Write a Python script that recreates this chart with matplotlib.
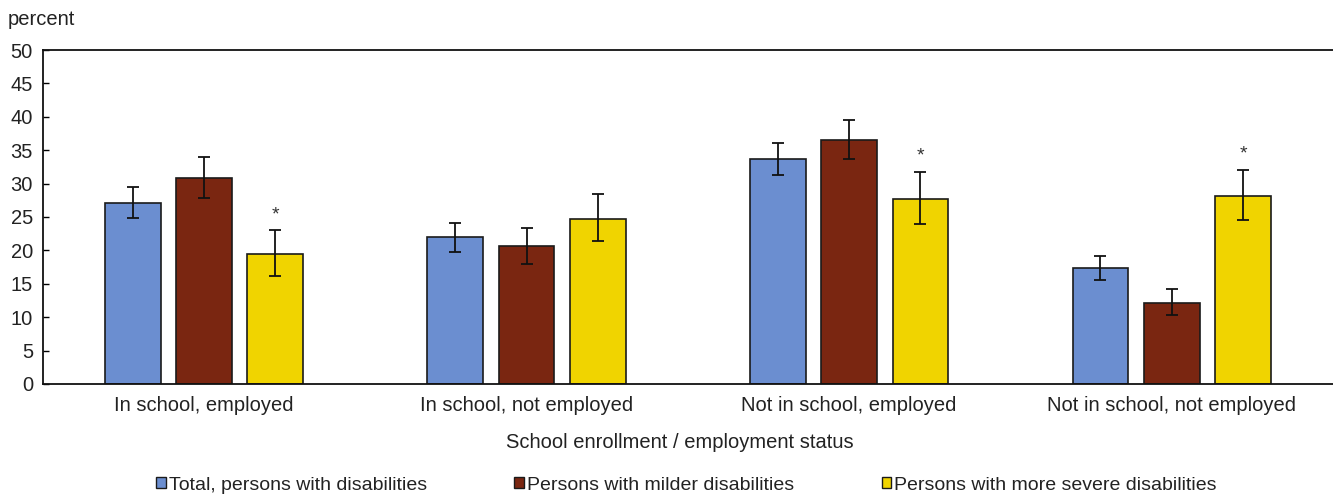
import numpy as np
import matplotlib
matplotlib.use('Agg')
import matplotlib.pyplot as plt
from matplotlib.patches import Patch

plt.rcParams['font.family'] = ['Liberation Sans', 'DejaVu Sans']

categories = ['In school, employed', 'In school, not employed',
              'Not in school, employed', 'Not in school, not employed']
series = ['Total, persons with disabilities', 'Persons with milder disabilities',
          'Persons with more severe disabilities']
colors = ['#6b8ed0', '#7a2611', '#f0d400']

total = [27.1, 22.0, 33.7, 17.3]
total_lo = [24.9, 19.8, 31.3, 15.6]
total_hi = [29.5, 24.1, 36.1, 19.2]

milder = [30.8, 20.6, 36.5, 12.1]
milder_lo = [27.9, 17.9, 33.7, 10.3]
milder_hi = [34.0, 23.4, 39.5, 14.2]

severe = [19.4, 24.7, 27.7, 28.2]
severe_lo = [16.2, 21.4, 24.0, 24.6]
severe_hi = [23.0, 28.4, 31.8, 32.1]

# asterisk = significantly different from milder disabilities
severe_sig = [True, False, True, True]

values = [total, milder, severe]
lows = [total_lo, milder_lo, severe_lo]
highs = [total_hi, milder_hi, severe_hi]

fig = plt.figure(figsize=(13.33, 4.96), dpi=100)
ax = fig.add_axes([0.032, 0.226, 0.968, 0.673])

x = np.arange(len(categories))
width = 0.173
step = 0.221
for i in range(3):
    v = np.array(values[i])
    err = [v - np.array(lows[i]), np.array(highs[i]) - v]
    ax.bar(x + (i - 1) * step, v, width, color=colors[i], edgecolor='#1a1a1a',
           linewidth=1.2, zorder=2)
    ax.errorbar(x + (i - 1) * step, v, yerr=err, fmt='none', ecolor='#111111',
                elinewidth=1.3, capsize=4, capthick=1.3, zorder=3)

for j, sig in enumerate(severe_sig):
    if sig:
        ax.text(x[j] + step, severe_hi[j] + 2.3, '*', ha='center', va='center',
                fontsize=14, color='#333333')

ax.set_xlim(-0.5, 3.5)
ax.set_ylim(0, 50)
ax.set_yticks(range(0, 51, 5))
ax.set_xticks(x)
ax.set_xticklabels(categories)
ax.tick_params(axis='y', direction='in', length=4, width=1, labelsize=14.5,
               labelcolor='#222222', pad=7)
ax.tick_params(axis='x', length=0, labelsize=14.5, labelcolor='#222222', pad=9)
for s in ['left', 'top', 'bottom']:
    ax.spines[s].set_linewidth(1.3)
    ax.spines[s].set_color('#111111')
ax.spines['right'].set_visible(False)

fig.text(0.006, 0.96, 'percent', fontsize=14.5, color='#222222', va='center')
fig.text(0.51, 0.108, 'School enrollment / employment status', fontsize=14.5,
         color='#222222', ha='center', va='center')

handles = [Patch(facecolor=c, edgecolor='#1a1a1a', linewidth=1) for c in colors]
fig.legend(handles, series, loc='center', bbox_to_anchor=(0.515, 0.022),
           ncol=3, frameon=False, fontsize=14, handlelength=0.5,
           handleheight=0.5, handletextpad=0.15, columnspacing=4.5,
           labelcolor='#222222')

fig.savefig('out.png', dpi=100)
